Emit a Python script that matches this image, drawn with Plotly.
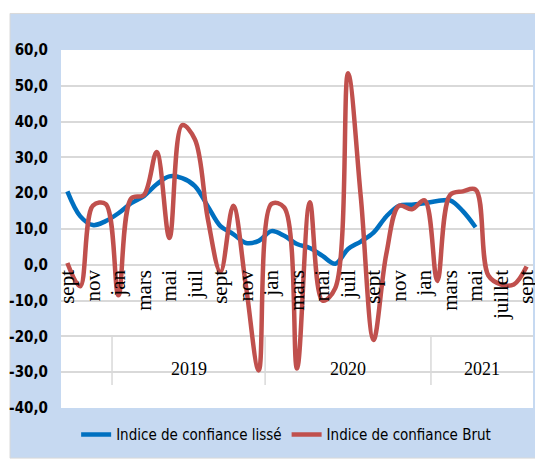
import plotly.graph_objects as go

# ---- data ----
month_index = list(range(37))  # sept 2018 .. sept 2021
tick_positions = list(range(0, 37, 2))
tick_labels = ["sept", "nov", "jan", "mars", "mai", "juil", "sept", "nov", "jan",
               "mars", "mai", "juil", "sept", "nov", "jan", "mars", "mai", "juillet", "sept"]

brut = [0.5, -6, 16.5, 17, -8.5, 18.5, 19.5, 31.5, 7.5, 39, 35, 13, -2,
        16.5, -6, -29.5, 17, 16, -29, 17.5, -10, -6.5, 53.5, 19, -21, 3,
        16.5, 15.5, 18, -4.5, 19.5, 20.5, 21, -3, -5.5, -5.5, -0.5]

lisse = [20.5, 13.6, 11.1, 12.2, 14.4, 17.2, 19.2, 22.5, 24.7, 24.2, 22, 16.4,
         10.8, 8.6, 6.1, 6.7, 9.4, 8.1, 5.8, 4.7, 2.5, 0.3, 4.4, 6.5, 9, 13.5,
         16.5, 16.8, 17.2, 17.8, 18, 15, 10.5]

y_tick_vals = [-40, -30, -20, -10, 0, 10, 20, 30, 40, 50, 60]
y_tick_text = ["-40,0", "-30,0", "-20,0", "-10,0", "0,0", "10,0", "20,0",
               "30,0", "40,0", "50,0", "60,0"]

years = ["2019", "2020", "2021"]
year_centers = [9.5, 22, 32.5]
year_separators = [3.5, 15.5, 28.5]

BLUE = "#0070C0"
RED = "#C0504D"
BG = "#C6D9F1"
GRID = "#D9D9D9"

fig = go.Figure()
fig.add_trace(go.Scatter(
    x=month_index[:len(lisse)], y=lisse, mode="lines",
    name="Indice de confiance lissé",
    line=dict(color=BLUE, width=4.5, shape="spline")))
fig.add_trace(go.Scatter(
    x=month_index, y=brut, mode="lines",
    name="Indice de confiance Brut",
    line=dict(color=RED, width=4.5, shape="spline")))

shapes = [
    dict(type="rect", xref="paper", yref="paper", x0=-0.108, x1=1.03, y0=-0.14, y1=1.102,
         fillcolor=BG, line=dict(color=GRID, width=1), layer="below"),
    dict(type="rect", xref="paper", yref="paper", x0=0, x1=1, y0=0, y1=1,
         fillcolor="white", line=dict(width=0), layer="below"),
]
for s in year_separators:
    shapes.append(dict(type="line", xref="x", yref="y", x0=s, x1=s, y0=-19.7, y1=-33.6,
                       line=dict(color=GRID, width=1.5), layer="below"))

annotations = []
for t, c in zip(years, year_centers):
    annotations.append(dict(x=c, y=-29, xref="x", yref="y", text=t, showarrow=False,
                            font=dict(family="Liberation Serif", size=18, color="black")))

fig.update_layout(
    width=535, height=453,
    margin=dict(l=53, r=10, t=42, b=49),
    paper_bgcolor="white", plot_bgcolor="white",
    shapes=shapes, annotations=annotations,
    showlegend=True,
    legend=dict(orientation="h", x=0.477, xanchor="center", y=-0.075, yanchor="middle",
                font=dict(family="DejaVu Sans Condensed", size=15, color="black"),
                bgcolor="rgba(0,0,0,0)"),
    xaxis=dict(range=[-0.5, 36.5], anchor="free", position=0.4,
               tickmode="array", tickvals=tick_positions, ticktext=tick_labels,
               tickangle=-90, showgrid=False, showline=False, zeroline=False, ticks="",
               tickfont=dict(family="Liberation Serif", size=21, color="black"),
               automargin=False),
    yaxis=dict(range=[-40, 60], tickmode="array", tickvals=y_tick_vals, ticktext=y_tick_text,
               showgrid=True, gridcolor=GRID, gridwidth=1.5, zeroline=False, showline=False,
               ticks="", ticklabelstandoff=12,
               tickfont=dict(family="DejaVu Sans Condensed", size=15, color="black", weight="bold"),
               automargin=False),
)

fig.write_html("out.html")
